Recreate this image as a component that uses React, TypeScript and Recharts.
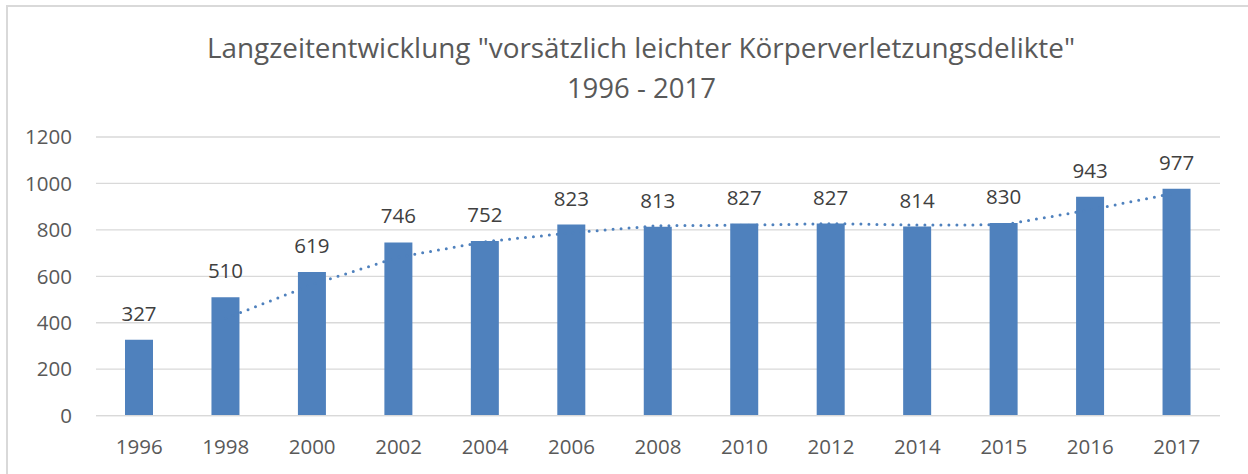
import React from "react";
import { ComposedChart, Bar, Line, XAxis, YAxis, CartesianGrid, LabelList } from "recharts";

const years = ["1996", "1998", "2000", "2002", "2004", "2006", "2008", "2010", "2012", "2014", "2015", "2016", "2017"];
const counts = [327, 510, 619, 746, 752, 823, 813, 827, 827, 814, 830, 943, 977];
// dotted trend line (2-period moving average)
const trend: (number | null)[] = [null, 418.5, 564.5, 682.5, 749, 787.5, 818, 820, 827, 820.5, 822, 886.5, 960];
const yTicks = [0, 200, 400, 600, 800, 1000, 1200];

const titleLine1 = 'Langzeitentwicklung "vorsätzlich leichter Körperverletzungsdelikte"';
const titleLine2 = "1996 - 2017";

const data = years.map((y, i) => ({ year: y, value: counts[i], trend: trend[i] }));

const FONT = "'Open Sans', sans-serif";
const BLUE = "#4F81BD";

export default function App() {
  return (
    <div style={{ position: "absolute", left: 0, top: 0, width: 1248, height: 474, overflow: "hidden", background: "#fff" }}>
      <div style={{ position: "absolute", left: 6, top: 5, width: 1400, height: 700, border: "2px solid #D9D9D9", boxSizing: "border-box" }} />
      <svg width={1248} height={120} style={{ position: "absolute", left: 0, top: 0 }}>
        <text x={641} y={58.3} textAnchor="middle" fontFamily={FONT} fontSize={28} fill="#595959" textLength={868} lengthAdjust="spacingAndGlyphs">
          {titleLine1}
        </text>
        <text x={641.4} y={98.3} textAnchor="middle" fontFamily={FONT} fontSize={28} fill="#595959" textLength={149} lengthAdjust="spacingAndGlyphs">
          {titleLine2}
        </text>
      </svg>
      <div style={{ position: "absolute", left: 0, top: 0 }}>
        <ComposedChart width={1248} height={474} data={data} margin={{ top: 137, right: 28, bottom: 0, left: 0 }}>
          <CartesianGrid vertical={false} stroke="#D9D9D9" strokeWidth={1.3} />
          <XAxis
            dataKey="year"
            height={58.4}
            tickLine={false}
            tickSize={0}
            tickMargin={24}
            axisLine={{ stroke: "#D9D9D9", strokeWidth: 1.3 }}
            tick={{ fill: "#595959", fontSize: 20.5, fontFamily: FONT }}
            interval={0}
          />
          <YAxis
            width={96}
            domain={[0, 1200]}
            ticks={yTicks}
            axisLine={false}
            tickLine={false}
            tickSize={0}
            tickMargin={24}
            tick={{ fill: "#595959", fontSize: 20.5, fontFamily: FONT }}
          />
          <Line
            dataKey="trend"
            stroke={BLUE}
            strokeWidth={3}
            strokeDasharray="0 8"
            strokeLinecap="round"
            dot={false}
            activeDot={false}
            type="linear"
            isAnimationActive={false}
          />
          <Bar dataKey="value" fill={BLUE} barSize={28} isAnimationActive={false}>
            <LabelList dataKey="value" position="top" offset={19} fill="#404040" fontSize={20.5} fontFamily={FONT} />
          </Bar>
        </ComposedChart>
      </div>
    </div>
  );
}
